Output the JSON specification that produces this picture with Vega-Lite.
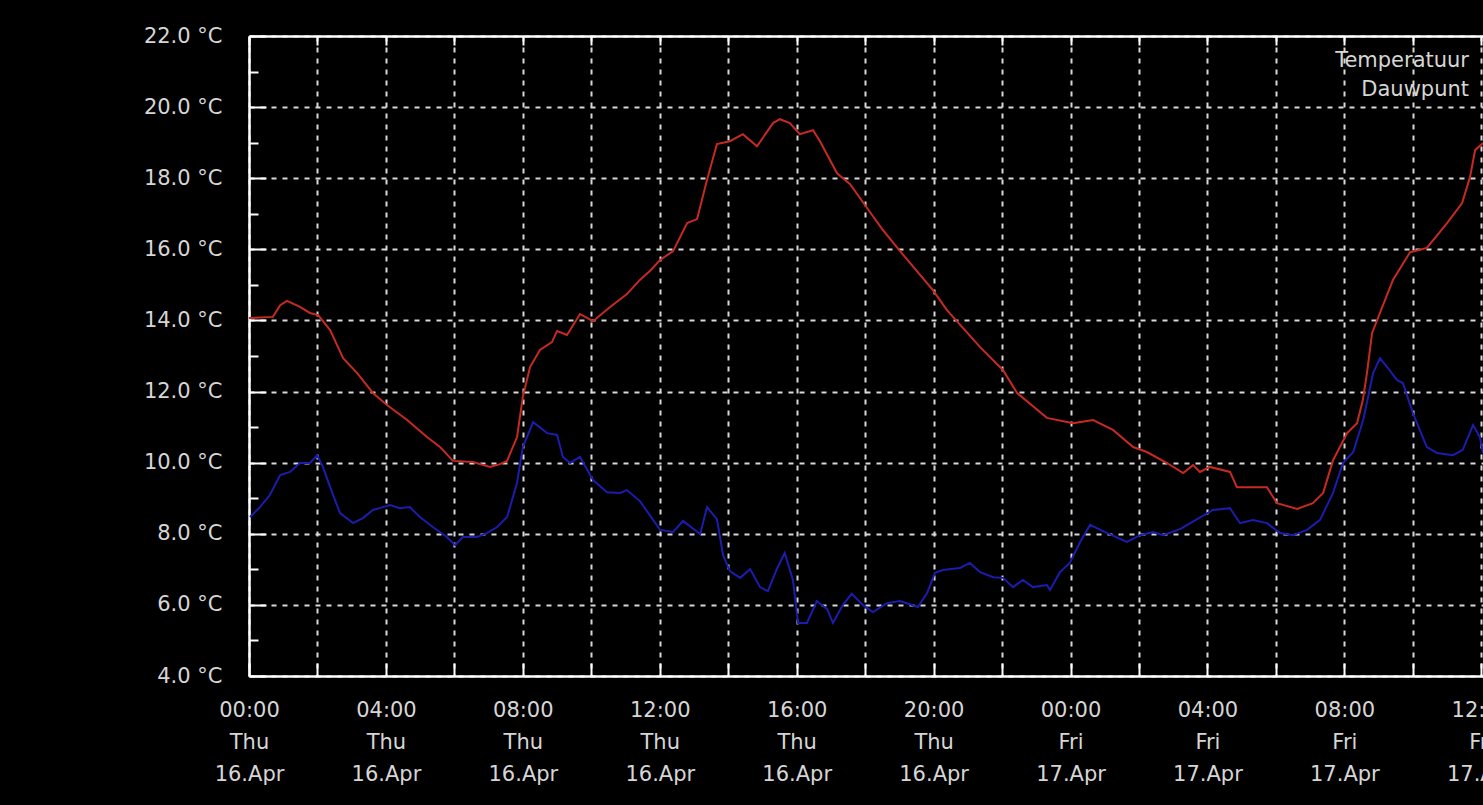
{
  "$schema": "https://vega.github.io/schema/vega-lite/v6.json",
  "width": 1234,
  "height": 640,
  "autosize": {"type": "none"},
  "padding": {"left": 249, "top": 36, "right": 0, "bottom": 129},
  "background": "#000000",
  "config": {
    "view": {"stroke": null},
    "axis": {
      "domainColor": "#ffffff",
      "domainWidth": 2.5,
      "tickColor": "#ffffff",
      "tickWidth": 2,
      "labelColor": "#d6d6d6",
      "labelFont": "DejaVu Sans",
      "labelFontSize": 21,
      "gridColor": "#d8d8d8",
      "gridDash": [5, 6],
      "gridWidth": 2,
      "title": null
    }
  },
  "data": {
    "values": [
      {"hour": 0.00, "series": "Temperatuur", "value": 14.07},
      {"hour": 0.70, "series": "Temperatuur", "value": 14.10},
      {"hour": 0.91, "series": "Temperatuur", "value": 14.43},
      {"hour": 1.11, "series": "Temperatuur", "value": 14.55},
      {"hour": 1.49, "series": "Temperatuur", "value": 14.38},
      {"hour": 1.78, "series": "Temperatuur", "value": 14.21},
      {"hour": 2.02, "series": "Temperatuur", "value": 14.15},
      {"hour": 2.37, "series": "Temperatuur", "value": 13.73},
      {"hour": 2.75, "series": "Temperatuur", "value": 12.94},
      {"hour": 3.16, "series": "Temperatuur", "value": 12.52},
      {"hour": 3.62, "series": "Temperatuur", "value": 11.96},
      {"hour": 4.03, "series": "Temperatuur", "value": 11.62},
      {"hour": 4.62, "series": "Temperatuur", "value": 11.20},
      {"hour": 5.20, "series": "Temperatuur", "value": 10.72},
      {"hour": 5.58, "series": "Temperatuur", "value": 10.44},
      {"hour": 5.96, "series": "Temperatuur", "value": 10.05},
      {"hour": 6.54, "series": "Temperatuur", "value": 10.02},
      {"hour": 7.04, "series": "Temperatuur", "value": 9.88},
      {"hour": 7.33, "series": "Temperatuur", "value": 9.96},
      {"hour": 7.54, "series": "Temperatuur", "value": 10.05},
      {"hour": 7.83, "series": "Temperatuur", "value": 10.72},
      {"hour": 8.00, "series": "Temperatuur", "value": 11.85},
      {"hour": 8.21, "series": "Temperatuur", "value": 12.69},
      {"hour": 8.50, "series": "Temperatuur", "value": 13.17},
      {"hour": 8.85, "series": "Temperatuur", "value": 13.39},
      {"hour": 9.00, "series": "Temperatuur", "value": 13.70},
      {"hour": 9.29, "series": "Temperatuur", "value": 13.59},
      {"hour": 9.67, "series": "Temperatuur", "value": 14.18},
      {"hour": 10.05, "series": "Temperatuur", "value": 13.98},
      {"hour": 10.55, "series": "Temperatuur", "value": 14.38},
      {"hour": 11.04, "series": "Temperatuur", "value": 14.74},
      {"hour": 11.42, "series": "Temperatuur", "value": 15.14},
      {"hour": 11.71, "series": "Temperatuur", "value": 15.39},
      {"hour": 12.01, "series": "Temperatuur", "value": 15.70},
      {"hour": 12.39, "series": "Temperatuur", "value": 15.95},
      {"hour": 12.80, "series": "Temperatuur", "value": 16.74},
      {"hour": 13.09, "series": "Temperatuur", "value": 16.85},
      {"hour": 13.38, "series": "Temperatuur", "value": 17.95},
      {"hour": 13.67, "series": "Temperatuur", "value": 18.96},
      {"hour": 14.05, "series": "Temperatuur", "value": 19.04},
      {"hour": 14.43, "series": "Temperatuur", "value": 19.24},
      {"hour": 14.84, "series": "Temperatuur", "value": 18.90},
      {"hour": 15.31, "series": "Temperatuur", "value": 19.55},
      {"hour": 15.51, "series": "Temperatuur", "value": 19.66},
      {"hour": 15.80, "series": "Temperatuur", "value": 19.55},
      {"hour": 16.09, "series": "Temperatuur", "value": 19.24},
      {"hour": 16.48, "series": "Temperatuur", "value": 19.35},
      {"hour": 16.68, "series": "Temperatuur", "value": 19.04},
      {"hour": 17.18, "series": "Temperatuur", "value": 18.14},
      {"hour": 17.56, "series": "Temperatuur", "value": 17.83},
      {"hour": 18.14, "series": "Temperatuur", "value": 17.05},
      {"hour": 18.52, "series": "Temperatuur", "value": 16.54},
      {"hour": 19.02, "series": "Temperatuur", "value": 15.95},
      {"hour": 19.98, "series": "Temperatuur", "value": 14.85},
      {"hour": 20.39, "series": "Temperatuur", "value": 14.29},
      {"hour": 21.36, "series": "Temperatuur", "value": 13.25},
      {"hour": 22.03, "series": "Temperatuur", "value": 12.60},
      {"hour": 22.44, "series": "Temperatuur", "value": 11.96},
      {"hour": 23.31, "series": "Temperatuur", "value": 11.26},
      {"hour": 24.07, "series": "Temperatuur", "value": 11.11},
      {"hour": 24.66, "series": "Temperatuur", "value": 11.20},
      {"hour": 25.24, "series": "Temperatuur", "value": 10.92},
      {"hour": 25.83, "series": "Temperatuur", "value": 10.44},
      {"hour": 26.23, "series": "Temperatuur", "value": 10.30},
      {"hour": 26.82, "series": "Temperatuur", "value": 9.99},
      {"hour": 27.29, "series": "Temperatuur", "value": 9.71},
      {"hour": 27.58, "series": "Temperatuur", "value": 9.93},
      {"hour": 27.78, "series": "Temperatuur", "value": 9.74},
      {"hour": 28.07, "series": "Temperatuur", "value": 9.88},
      {"hour": 28.66, "series": "Temperatuur", "value": 9.74},
      {"hour": 28.86, "series": "Temperatuur", "value": 9.31},
      {"hour": 29.74, "series": "Temperatuur", "value": 9.31},
      {"hour": 30.03, "series": "Temperatuur", "value": 8.86},
      {"hour": 30.62, "series": "Temperatuur", "value": 8.70},
      {"hour": 31.08, "series": "Temperatuur", "value": 8.86},
      {"hour": 31.38, "series": "Temperatuur", "value": 9.15},
      {"hour": 31.67, "series": "Temperatuur", "value": 10.07},
      {"hour": 32.08, "series": "Temperatuur", "value": 10.83},
      {"hour": 32.37, "series": "Temperatuur", "value": 11.11},
      {"hour": 32.54, "series": "Temperatuur", "value": 11.76},
      {"hour": 32.66, "series": "Temperatuur", "value": 12.52},
      {"hour": 32.81, "series": "Temperatuur", "value": 13.65},
      {"hour": 33.04, "series": "Temperatuur", "value": 14.21},
      {"hour": 33.42, "series": "Temperatuur", "value": 15.14},
      {"hour": 33.92, "series": "Temperatuur", "value": 15.92},
      {"hour": 34.41, "series": "Temperatuur", "value": 16.04},
      {"hour": 35.00, "series": "Temperatuur", "value": 16.74},
      {"hour": 35.44, "series": "Temperatuur", "value": 17.30},
      {"hour": 35.67, "series": "Temperatuur", "value": 18.03},
      {"hour": 35.82, "series": "Temperatuur", "value": 18.79},
      {"hour": 36.05, "series": "Temperatuur", "value": 18.99},
      {"hour": 0.03, "series": "Dauwpunt", "value": 8.47},
      {"hour": 0.32, "series": "Dauwpunt", "value": 8.75},
      {"hour": 0.61, "series": "Dauwpunt", "value": 9.09},
      {"hour": 0.91, "series": "Dauwpunt", "value": 9.65},
      {"hour": 1.20, "series": "Dauwpunt", "value": 9.74},
      {"hour": 1.49, "series": "Dauwpunt", "value": 9.99},
      {"hour": 1.78, "series": "Dauwpunt", "value": 9.99},
      {"hour": 1.99, "series": "Dauwpunt", "value": 10.21},
      {"hour": 2.16, "series": "Dauwpunt", "value": 9.88},
      {"hour": 2.37, "series": "Dauwpunt", "value": 9.31},
      {"hour": 2.66, "series": "Dauwpunt", "value": 8.58},
      {"hour": 3.04, "series": "Dauwpunt", "value": 8.30},
      {"hour": 3.33, "series": "Dauwpunt", "value": 8.44},
      {"hour": 3.62, "series": "Dauwpunt", "value": 8.67},
      {"hour": 3.91, "series": "Dauwpunt", "value": 8.75},
      {"hour": 4.12, "series": "Dauwpunt", "value": 8.81},
      {"hour": 4.41, "series": "Dauwpunt", "value": 8.72},
      {"hour": 4.70, "series": "Dauwpunt", "value": 8.75},
      {"hour": 4.99, "series": "Dauwpunt", "value": 8.47},
      {"hour": 5.37, "series": "Dauwpunt", "value": 8.19},
      {"hour": 5.78, "series": "Dauwpunt", "value": 7.91},
      {"hour": 6.02, "series": "Dauwpunt", "value": 7.68},
      {"hour": 6.25, "series": "Dauwpunt", "value": 7.91},
      {"hour": 6.66, "series": "Dauwpunt", "value": 7.91},
      {"hour": 6.95, "series": "Dauwpunt", "value": 8.02},
      {"hour": 7.25, "series": "Dauwpunt", "value": 8.19},
      {"hour": 7.54, "series": "Dauwpunt", "value": 8.47},
      {"hour": 7.83, "series": "Dauwpunt", "value": 9.43},
      {"hour": 8.00, "series": "Dauwpunt", "value": 10.44},
      {"hour": 8.30, "series": "Dauwpunt", "value": 11.14},
      {"hour": 8.71, "series": "Dauwpunt", "value": 10.83},
      {"hour": 9.00, "series": "Dauwpunt", "value": 10.78},
      {"hour": 9.17, "series": "Dauwpunt", "value": 10.16},
      {"hour": 9.38, "series": "Dauwpunt", "value": 9.99},
      {"hour": 9.67, "series": "Dauwpunt", "value": 10.16},
      {"hour": 10.05, "series": "Dauwpunt", "value": 9.51},
      {"hour": 10.46, "series": "Dauwpunt", "value": 9.17},
      {"hour": 10.84, "series": "Dauwpunt", "value": 9.15},
      {"hour": 11.04, "series": "Dauwpunt", "value": 9.23},
      {"hour": 11.42, "series": "Dauwpunt", "value": 8.92},
      {"hour": 12.01, "series": "Dauwpunt", "value": 8.11},
      {"hour": 12.39, "series": "Dauwpunt", "value": 8.05},
      {"hour": 12.68, "series": "Dauwpunt", "value": 8.36},
      {"hour": 13.18, "series": "Dauwpunt", "value": 7.99},
      {"hour": 13.38, "series": "Dauwpunt", "value": 8.75},
      {"hour": 13.67, "series": "Dauwpunt", "value": 8.41},
      {"hour": 13.85, "series": "Dauwpunt", "value": 7.40},
      {"hour": 14.05, "series": "Dauwpunt", "value": 6.95},
      {"hour": 14.35, "series": "Dauwpunt", "value": 6.76},
      {"hour": 14.64, "series": "Dauwpunt", "value": 7.01},
      {"hour": 14.93, "series": "Dauwpunt", "value": 6.50},
      {"hour": 15.16, "series": "Dauwpunt", "value": 6.39},
      {"hour": 15.42, "series": "Dauwpunt", "value": 7.01},
      {"hour": 15.65, "series": "Dauwpunt", "value": 7.46},
      {"hour": 15.89, "series": "Dauwpunt", "value": 6.70},
      {"hour": 16.04, "series": "Dauwpunt", "value": 5.49},
      {"hour": 16.30, "series": "Dauwpunt", "value": 5.49},
      {"hour": 16.59, "series": "Dauwpunt", "value": 6.11},
      {"hour": 16.89, "series": "Dauwpunt", "value": 5.88},
      {"hour": 17.06, "series": "Dauwpunt", "value": 5.49},
      {"hour": 17.35, "series": "Dauwpunt", "value": 6.00},
      {"hour": 17.61, "series": "Dauwpunt", "value": 6.31},
      {"hour": 17.93, "series": "Dauwpunt", "value": 6.00},
      {"hour": 18.23, "series": "Dauwpunt", "value": 5.80},
      {"hour": 18.64, "series": "Dauwpunt", "value": 6.05},
      {"hour": 19.02, "series": "Dauwpunt", "value": 6.11},
      {"hour": 19.54, "series": "Dauwpunt", "value": 5.94},
      {"hour": 19.81, "series": "Dauwpunt", "value": 6.33},
      {"hour": 20.04, "series": "Dauwpunt", "value": 6.90},
      {"hour": 20.27, "series": "Dauwpunt", "value": 6.98},
      {"hour": 20.77, "series": "Dauwpunt", "value": 7.04},
      {"hour": 21.06, "series": "Dauwpunt", "value": 7.18},
      {"hour": 21.36, "series": "Dauwpunt", "value": 6.92},
      {"hour": 21.74, "series": "Dauwpunt", "value": 6.78},
      {"hour": 22.03, "series": "Dauwpunt", "value": 6.76},
      {"hour": 22.32, "series": "Dauwpunt", "value": 6.50},
      {"hour": 22.61, "series": "Dauwpunt", "value": 6.70},
      {"hour": 22.90, "series": "Dauwpunt", "value": 6.50},
      {"hour": 23.31, "series": "Dauwpunt", "value": 6.56},
      {"hour": 23.40, "series": "Dauwpunt", "value": 6.42},
      {"hour": 23.69, "series": "Dauwpunt", "value": 6.92},
      {"hour": 23.98, "series": "Dauwpunt", "value": 7.18},
      {"hour": 24.28, "series": "Dauwpunt", "value": 7.77},
      {"hour": 24.57, "series": "Dauwpunt", "value": 8.25},
      {"hour": 25.07, "series": "Dauwpunt", "value": 8.02},
      {"hour": 25.65, "series": "Dauwpunt", "value": 7.77},
      {"hour": 26.03, "series": "Dauwpunt", "value": 7.96},
      {"hour": 26.41, "series": "Dauwpunt", "value": 8.05},
      {"hour": 26.70, "series": "Dauwpunt", "value": 7.96},
      {"hour": 27.20, "series": "Dauwpunt", "value": 8.13},
      {"hour": 27.70, "series": "Dauwpunt", "value": 8.41},
      {"hour": 28.16, "series": "Dauwpunt", "value": 8.67},
      {"hour": 28.66, "series": "Dauwpunt", "value": 8.72},
      {"hour": 28.95, "series": "Dauwpunt", "value": 8.30},
      {"hour": 29.33, "series": "Dauwpunt", "value": 8.39},
      {"hour": 29.74, "series": "Dauwpunt", "value": 8.30},
      {"hour": 30.12, "series": "Dauwpunt", "value": 8.02},
      {"hour": 30.50, "series": "Dauwpunt", "value": 7.96},
      {"hour": 30.91, "series": "Dauwpunt", "value": 8.11},
      {"hour": 31.29, "series": "Dauwpunt", "value": 8.39},
      {"hour": 31.67, "series": "Dauwpunt", "value": 9.15},
      {"hour": 31.96, "series": "Dauwpunt", "value": 9.99},
      {"hour": 32.26, "series": "Dauwpunt", "value": 10.30},
      {"hour": 32.55, "series": "Dauwpunt", "value": 11.20},
      {"hour": 32.84, "series": "Dauwpunt", "value": 12.52},
      {"hour": 33.04, "series": "Dauwpunt", "value": 12.94},
      {"hour": 33.25, "series": "Dauwpunt", "value": 12.69},
      {"hour": 33.54, "series": "Dauwpunt", "value": 12.32},
      {"hour": 33.71, "series": "Dauwpunt", "value": 12.24},
      {"hour": 34.00, "series": "Dauwpunt", "value": 11.40},
      {"hour": 34.41, "series": "Dauwpunt", "value": 10.44},
      {"hour": 34.71, "series": "Dauwpunt", "value": 10.27},
      {"hour": 35.17, "series": "Dauwpunt", "value": 10.21},
      {"hour": 35.46, "series": "Dauwpunt", "value": 10.36},
      {"hour": 35.76, "series": "Dauwpunt", "value": 11.06},
      {"hour": 35.96, "series": "Dauwpunt", "value": 10.72},
      {"hour": 36.05, "series": "Dauwpunt", "value": 10.27}
    ]
  },
  "layer": [
    {
      "mark": {"type": "line", "strokeWidth": 2, "clip": true},
      "encoding": {
        "x": {
          "field": "hour",
          "type": "quantitative",
          "scale": {"domain": [0, 36.05], "nice": false, "zero": false},
          "axis": {
            "orient": "bottom",
            "values": [0, 2, 4, 6, 8, 10, 12, 14, 16, 18, 20, 22, 24, 26, 28, 30, 32, 34, 36],
            "tickSize": -13,
            "labelPadding": 36,
            "labelLineHeight": 32,
            "labelBaseline": "top",
            "labelFlush": false,
            "labelOverlap": false,
            "labelExpr": "datum.value % 4 == 0 ? [((datum.value % 24) < 10 ? '0' : '') + (datum.value % 24) + ':00', datum.value < 24 ? 'Thu' : 'Fri', datum.value < 24 ? '16.Apr' : '17.Apr'] : ''",
            "grid": true
          }
        },
        "y": {
          "field": "value",
          "type": "quantitative",
          "scale": {"domain": [4, 22], "nice": false, "zero": false},
          "axis": {
            "orient": "left",
            "values": [4, 6, 8, 10, 12, 14, 16, 18, 20, 22],
            "tickSize": -17,
            "labelPadding": 44,
            "labelExpr": "format(datum.value, '.1f') + ' °C'",
            "grid": true
          }
        },
        "color": {
          "field": "series",
          "type": "nominal",
          "scale": {"domain": ["Temperatuur", "Dauwpunt"], "range": ["#c62a22", "#1c1cae"]},
          "legend": {
            "title": null,
            "orient": "top-right",
            "offset": 14,
            "labelColor": "#d6d6d6",
            "labelFont": "DejaVu Sans",
            "labelFontSize": 21,
            "labelAlign": "right",
            "symbolType": "stroke",
            "symbolSize": 0,
            "symbolStrokeWidth": 0,
            "rowPadding": 7
          }
        }
      }
    },
    {
      "mark": {"type": "point", "opacity": 0},
      "encoding": {
        "x": {
          "field": "hour",
          "type": "quantitative",
          "axis": {
            "orient": "top",
            "values": [0, 2, 4, 6, 8, 10, 12, 14, 16, 18, 20, 22, 24, 26, 28, 30, 32, 34, 36],
            "tickSize": -9,
            "labels": false,
            "grid": false
          }
        },
        "y": {
          "field": "value",
          "type": "quantitative",
          "axis": {
            "orient": "left",
            "values": [5, 7, 9, 11, 13, 15, 17, 19, 21],
            "tickSize": -9,
            "labels": false,
            "grid": false,
            "domain": false
          }
        }
      }
    }
  ],
  "resolve": {"axis": {"x": "independent", "y": "independent"}}
}
